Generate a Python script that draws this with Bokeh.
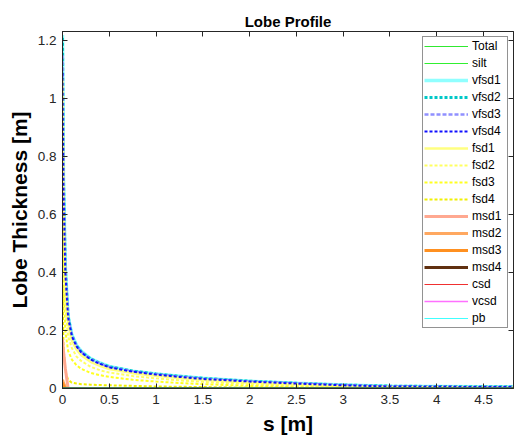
from bokeh.plotting import figure
from bokeh.models import Legend, LegendItem, LinearAxis, FixedTicker, Range1d, CustomJSTickFormatter
from bokeh.embed import file_html
from bokeh.resources import INLINE

# distance along the lobe [m]
s = [0, 0.01, 0.03, 0.06, 0.1, 0.15, 0.2, 0.3, 0.4, 0.5, 0.75, 1.0, 1.25, 1.5, 2.0, 2.5, 3.0, 3.5, 4.0, 4.5, 5.0]

total = [0, 0, 0, 0, 0, 0, 0, 0, 0, 0, 0, 0, 0, 0, 0, 0, 0, 0, 0, 0, 0]
silt = [0, 0, 0, 0, 0, 0, 0, 0, 0, 0, 0, 0, 0, 0, 0, 0, 0, 0, 0, 0, 0]
vfsd1 = [1.22, 0.74, 0.42, 0.25, 0.185, 0.149, 0.129, 0.103, 0.088, 0.076, 0.06, 0.05, 0.042, 0.035, 0.025, 0.018, 0.012, 0.008, 0.007, 0.006, 0.006]
vfsd2 = [1.21, 0.73, 0.415, 0.248, 0.183, 0.147, 0.127, 0.102, 0.087, 0.075, 0.06, 0.05, 0.042, 0.035, 0.025, 0.018, 0.012, 0.008, 0.007, 0.006, 0.006]
vfsd3 = [1.15, 0.71, 0.41, 0.246, 0.182, 0.146, 0.126, 0.101, 0.086, 0.074, 0.059, 0.049, 0.041, 0.034, 0.024, 0.018, 0.012, 0.007, 0.006, 0.005, 0.005]
vfsd4 = [1.09, 0.7, 0.4, 0.244, 0.18, 0.145, 0.125, 0.1, 0.085, 0.073, 0.058, 0.048, 0.04, 0.033, 0.024, 0.017, 0.011, 0.007, 0.006, 0.005, 0.005]
fsd1 = [1.07, 0.65, 0.37, 0.225, 0.165, 0.135, 0.115, 0.092, 0.078, 0.067, 0.053, 0.044, 0.036, 0.03, 0.02, 0.014, 0.007, 0.005, 0.004, 0.003, 0.003]
fsd2 = [0.9, 0.5, 0.28, 0.18, 0.14, 0.11, 0.095, 0.075, 0.063, 0.055, 0.043, 0.035, 0.028, 0.023, 0.015, 0.009, 0.004, 0.003, 0.002, 0.002, 0.002]
fsd3 = [0.6, 0.35, 0.2, 0.13, 0.1, 0.08, 0.068, 0.054, 0.046, 0.04, 0.03, 0.024, 0.019, 0.015, 0.009, 0.005, 0.002, 0.001, 0.001, 0.001, 0.001]
fsd4 = [0.35, 0.15, 0.06, 0.03, 0.02, 0.017, 0.015, 0.013, 0.012, 0.011, 0.009, 0.007, 0.006, 0.005, 0.003, 0.002, 0.001, 0, 0, 0, 0]
msd1 = [0.17, 0.13, 0.07, 0, 0, 0, 0, 0, 0, 0, 0, 0, 0, 0, 0, 0, 0, 0, 0, 0, 0]
msd2 = [0.03, 0.02, 0.005, 0, 0, 0, 0, 0, 0, 0, 0, 0, 0, 0, 0, 0, 0, 0, 0, 0, 0]
msd3 = [0.02, 0.01, 0, 0, 0, 0, 0, 0, 0, 0, 0, 0, 0, 0, 0, 0, 0, 0, 0, 0, 0]
msd4 = [0, 0, 0, 0, 0, 0, 0, 0, 0, 0, 0, 0, 0, 0, 0, 0, 0, 0, 0, 0, 0]
csd = [0, 0, 0, 0, 0, 0, 0, 0, 0, 0, 0, 0, 0, 0, 0, 0, 0, 0, 0, 0, 0]
vcsd = [0, 0, 0, 0, 0, 0, 0, 0, 0, 0, 0, 0, 0, 0, 0, 0, 0, 0, 0, 0, 0]
pb = [1.22, 0.74, 0.42, 0.25, 0.185, 0.149, 0.129, 0.103, 0.088, 0.076, 0.06, 0.05, 0.042, 0.035, 0.025, 0.018, 0.012, 0.008, 0.007, 0.006, 0.006]

x_ticks = [0, 0.5, 1, 1.5, 2, 2.5, 3, 3.5, 4, 4.5]
y_ticks = [0, 0.2, 0.4, 0.6, 0.8, 1.0, 1.2]

FONT = "Liberation Sans"
AX = "#262626"

p = figure(width=515, height=439, output_backend="svg", toolbar_location=None,
           x_range=Range1d(0, 4.82), y_range=Range1d(0, 1.232),
           min_border_left=62, min_border_right=2, min_border_top=31, min_border_bottom=51,
           title="Lobe Profile")
p.background_fill_color = "white"
p.border_fill_color = "white"
p.outline_line_color = AX
p.grid.visible = False

p.title.text_font = FONT
p.title.text_font_size = "15px"
p.title.text_font_style = "bold"
p.title.align = "center"
p.title.text_color = "black"
p.title.standoff = 4

def style_axis(ax, labels=True):
    ax.axis_line_color = AX
    ax.major_tick_line_color = AX
    ax.major_tick_in = 5
    ax.major_tick_out = 0
    ax.minor_tick_line_color = None
    ax.major_label_text_font = FONT
    ax.major_label_text_color = AX
    ax.major_label_text_font_size = "13.5px"
    ax.major_label_standoff = 6 if labels else 0
    ax.axis_label_text_font = FONT
    ax.axis_label_text_font_size = "21px"
    ax.axis_label_text_font_style = "bold"
    ax.axis_label_text_color = "black"

p.xaxis.ticker = FixedTicker(ticks=x_ticks)
p.yaxis.ticker = FixedTicker(ticks=y_ticks)
p.xaxis.axis_label = "s [m]"
p.yaxis.axis_label = "Lobe Thickness [m]"
style_axis(p.xaxis[0])
style_axis(p.yaxis[0])
p.xaxis.axis_label_standoff = 5
p.yaxis.axis_label_standoff = 4

blank = CustomJSTickFormatter(code="return ''")
top_ax = LinearAxis(ticker=FixedTicker(ticks=x_ticks), formatter=blank)
style_axis(top_ax, labels=False)
p.add_layout(top_ax, "above")
right_ax = LinearAxis(ticker=FixedTicker(ticks=y_ticks), formatter=blank)
style_axis(right_ax, labels=False)
p.add_layout(right_ax, "right")

series = [
    ("Total", total, "#30e830", 1.2, "solid"),
    ("silt", silt, "#30f030", 1.2, "solid"),
    ("vfsd1", vfsd1, "#90ffff", 3.5, "solid"),
    ("vfsd2", vfsd2, "#00c8c8", 3, "3 2"),
    ("vfsd3", vfsd3, "#9090ff", 2.5, "4 2"),
    ("vfsd4", vfsd4, "#1010ff", 2, "3 2"),
    ("fsd1", fsd1, "#ffff80", 2.5, "solid"),
    ("fsd2", fsd2, "#ffff60", 2, "3 2"),
    ("fsd3", fsd3, "#ffff20", 2, "3 2"),
    ("fsd4", fsd4, "#f0f000", 2, "3 2"),
    ("msd1", msd1, "#ffa890", 3, "solid"),
    ("msd2", msd2, "#ffa860", 3, "solid"),
    ("msd3", msd3, "#ff9020", 3, "solid"),
    ("msd4", msd4, "#603010", 3, "solid"),
    ("csd", csd, "#f03030", 1.2, "solid"),
    ("vcsd", vcsd, "#ff70ff", 1.5, "solid"),
    ("pb", pb, "#40ffff", 1.2, "solid"),
]
# drawing order (legend keeps the order above)
draw_order = ["pb", "vfsd1", "vfsd2", "vfsd3", "fsd1", "fsd2", "fsd3", "fsd4",
              "msd1", "msd2", "msd3", "msd4", "csd", "vcsd", "Total", "silt", "vfsd4"]

renderers = {}
lookup = {name: (ys, col, w, dash) for name, ys, col, w, dash in series}
for name in draw_order:
    ys, col, w, dash = lookup[name]
    renderers[name] = p.line(s, ys, line_color=col, line_width=w, line_dash=dash)

# baseline tint of the overlapping zero-valued series
p.line(s, total, line_color="#3a8a5a", line_width=3, line_alpha=0.8)

items = [LegendItem(label=name, renderers=[renderers[name]]) for name, *_ in series]

legend = Legend(items=items, location=(360, 60))
legend.label_text_font = FONT
legend.label_text_font_size = "12px"
legend.label_text_color = "black"
legend.glyph_width = 44
legend.glyph_height = 16
legend.label_height = 16
legend.label_width = 34
legend.spacing = 1
legend.padding = 1
legend.margin = 0
legend.label_standoff = 4
legend.border_line_color = AX
legend.border_line_width = 1
legend.background_fill_color = "white"
legend.background_fill_alpha = 1
p.add_layout(legend, "center")

open("out.html", "w").write(file_html(p, INLINE))
